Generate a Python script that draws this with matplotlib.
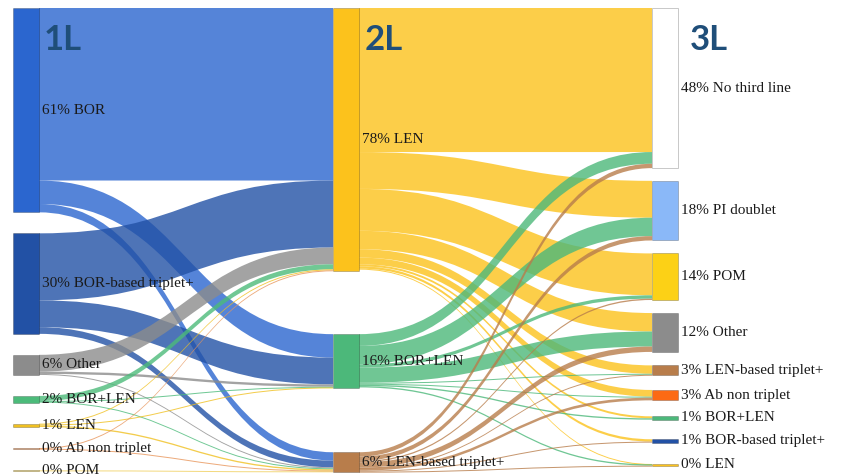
import matplotlib
matplotlib.use("Agg")
import matplotlib.pyplot as plt
from matplotlib.path import Path
from matplotlib.patches import PathPatch, Rectangle

# nodi per linea di terapia
labels_1l = ["61% BOR", "30% BOR-based triplet+", "6% Other", "2% BOR+LEN",
             "1% LEN", "0% Ab non triplet", "0% POM"]
labels_2l = ["78% LEN", "16% BOR+LEN", "6% LEN-based triplet+"]
labels_3l = ["48% No third line", "18% PI doublet", "14% POM", "12% Other",
             "3% LEN-based triplet+", "3% Ab non triplet", "1% BOR+LEN",
             "1% BOR-based triplet+", "0% LEN"]

colors_1l = ["#2b66cf", "#2251a5", "#8c8c8c", "#4cbb7a", "#f0c020", "#e8955a", "#f0d060"]
colors_2l = ["#fcc21c", "#4cb87a", "#b87d4b"]
colors_3l = ["#ffffff", "#8ab8f8", "#fcd116", "#8c8c8c", "#b87d4b", "#fc6a14",
             "#4cb87a", "#2251a5", "#fcc21c"]

# flussi 1L -> 2L (righe: nodi 1L, colonne: nodi 2L), valori in %
flows_1l_2l = [
    [51.5, 7.0, 2.5],
    [20.0, 8.0, 2.0],
    [5.0, 0.7, 0.3],
    [1.5, 0.2, 0.3],
    [0.3, 0.3, 0.4],
    [0.2, 0.0, 0.2],
    [0.0, 0.0, 0.2],
]

# flussi 2L -> 3L (righe: nodi 2L, colonne: nodi 3L), valori in %
flows_2l_3l = [
    [43.0, 11.0, 12.5, 5.5, 2.5, 2.0, 0.6, 0.7, 0.1],
    [3.5, 5.5, 1.0, 4.5, 0.3, 0.3, 0.4, 0.0, 0.4],
    [1.3, 1.3, 0.4, 1.6, 0.1, 0.8, 0.0, 0.3, 0.1],
]

headers = ["1L", "2L", "3L"]

PX_PER_PCT = 3.35
NODE_W = 26
LINK_ALPHA = 0.8
MIN_LINK_PX = 1.0

columns = [
    dict(x=13, top=8, bottom=471, gap=21, head_x=44, labels=labels_1l, colors=colors_1l),
    dict(x=333, top=8, bottom=472, gap=63, head_x=365, labels=labels_2l, colors=colors_2l),
    dict(x=652, top=8, bottom=466, gap=12.5, head_x=690, labels=labels_3l, colors=colors_3l),
]
flows = [flows_1l_2l, flows_2l_3l]


def node_values(ci):
    n = len(columns[ci]["labels"])
    vals = []
    for i in range(n):
        out_v = sum(flows[ci][i]) if ci < len(flows) else 0
        in_v = sum(row[i] for row in flows[ci - 1]) if ci > 0 else 0
        vals.append(max(in_v, out_v))
    return vals


def layout_column(heights, top, bottom, gap):
    n = len(heights)
    slack = max(bottom - top - sum(heights) - gap * (n - 1), 0)
    w = [1.0 / (heights[i] + heights[i + 1] + 1e-6) for i in range(n - 1)]
    ws = sum(w)
    ys = []
    y = top
    for i, h in enumerate(heights):
        ys.append(y)
        if i < n - 1:
            y += h + gap + slack * w[i] / ws
    return ys


def ribbon(ax, x0, y0, x1, y1, h, color):
    xm = (x0 + x1) / 2
    verts = [(x0, y0), (xm, y0), (xm, y1), (x1, y1), (x1, y1 + h),
             (xm, y1 + h), (xm, y0 + h), (x0, y0 + h), (x0, y0)]
    codes = [Path.MOVETO, Path.CURVE4, Path.CURVE4, Path.CURVE4, Path.LINETO,
             Path.CURVE4, Path.CURVE4, Path.CURVE4, Path.CLOSEPOLY]
    ax.add_patch(PathPatch(Path(verts, codes), facecolor=color,
                           alpha=LINK_ALPHA, linewidth=0))


fig = plt.figure(figsize=(8.41, 4.76), dpi=100)
ax = fig.add_axes([0, 0, 1, 1])
ax.set_xlim(0, 841)
ax.set_ylim(476, 0)
ax.axis("off")

# posizioni dei nodi
tops, heights = [], []
for ci, col in enumerate(columns):
    hs = [v * PX_PER_PCT for v in node_values(ci)]
    heights.append(hs)
    tops.append(layout_column(hs, col["top"], col["bottom"], col["gap"]))

# flussi
for ci, mat in enumerate(flows):
    src, dst = columns[ci], columns[ci + 1]
    in_ptr = list(tops[ci + 1])
    for i, row in enumerate(mat):
        out_ptr = tops[ci][i]
        for j, v in enumerate(row):
            if v <= 0:
                continue
            h = v * PX_PER_PCT
            ribbon(ax, src["x"] + NODE_W, out_ptr, dst["x"], in_ptr[j],
                   max(h, MIN_LINK_PX), src["colors"][i])
            out_ptr += h
            in_ptr[j] += h

# nodi ed etichette
for ci, col in enumerate(columns):
    for i, lab in enumerate(col["labels"]):
        y, h = tops[ci][i], heights[ci][i]
        ax.add_patch(Rectangle((col["x"], y), NODE_W, max(h, 0.8),
                               facecolor=col["colors"][i],
                               edgecolor=(0, 0, 0, 0.25), linewidth=0.6))
        ax.text(col["x"] + NODE_W + 3, y + h / 2, lab, ha="left", va="center",
                fontsize=11, family="Liberation Serif", color="#1a1a1a")
    ax.text(col["head_x"], 50, headers[ci], ha="left", va="baseline",
            fontsize=25, fontweight="bold", family="Lato", color="#1f4e79")

fig.savefig("out.png", dpi=100)
